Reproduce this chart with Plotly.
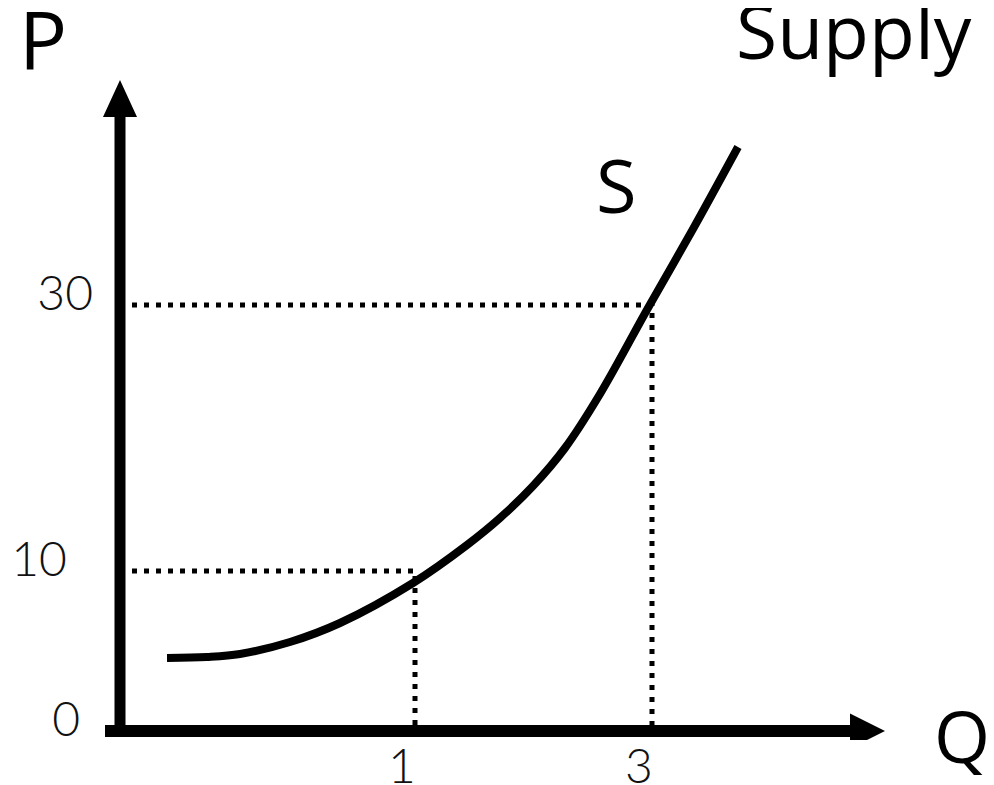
import plotly.graph_objects as go

# ---- data (schematic diagram units: 1 unit ~ 100 px on the page) ----
q_tick_labels = ["1", "3"]
q_tick_pos = [2.95, 5.32]
p_tick_labels = ["0", "10", "30"]
p_tick_pos = [0.0, 1.60, 4.26]

supply_q = [0.47, 0.87, 1.20, 1.70, 2.20, 2.93, 3.47, 3.80, 4.13, 4.45, 4.80, 5.28, 5.73, 6.18]
supply_p = [0.73, 0.74, 0.77, 0.89, 1.08, 1.48, 1.86, 2.13, 2.45, 2.83, 3.37, 4.23, 5.02, 5.84]

# ---- style ----
BLACK = "#000000"
BIG_FONT = "Open Sans, Noto Sans, sans-serif"
TICK_FONT = "Lato, Noto Sans, sans-serif"
p_label_pad = [1, 2, 0]  # non-breaking spaces after labels (visual offset only)

fig = go.Figure()

# dotted guide lines from each highlighted (Q, P) pair
for qi, pi in [(0, 1), (1, 2)]:
    q = q_tick_pos[qi]
    p = p_tick_pos[pi]
    fig.add_trace(go.Scatter(
        x=[0, q, q], y=[p, p, 0], mode="lines",
        line=dict(color=BLACK, width=5, dash="5px,7px"),
        hoverinfo="skip", showlegend=False))

# supply curve
fig.add_trace(go.Scatter(
    x=supply_q, y=supply_p, mode="lines",
    line=dict(color=BLACK, width=8, shape="spline", smoothing=1.0),
    showlegend=False, hoverinfo="skip"))

shapes = [
    dict(type="line", xref="x", yref="y", x0=0, x1=0, y0=-0.06, y1=6.17,
         line=dict(color=BLACK, width=11), layer="above"),
    dict(type="path", xref="x", yref="y", path="M -0.17,6.14 L 0.17,6.14 L 0,6.51 Z",
         fillcolor=BLACK, line=dict(width=0), layer="above"),
    dict(type="line", xref="x", yref="y", x0=-0.15, x1=7.32, y0=0, y1=0,
         line=dict(color=BLACK, width=12), layer="above"),
    dict(type="path", xref="x", yref="y", path="M 7.30,-0.175 L 7.30,0.175 L 7.65,0 Z",
         fillcolor=BLACK, line=dict(width=0), layer="above"),
]

annotations = [
    dict(text="P", xref="paper", yref="paper", x=-0.064, y=0.959, xanchor="center", yanchor="middle",
         showarrow=False, font=dict(family=BIG_FONT, size=80, color=BLACK)),
    dict(text="Supply", xref="paper", yref="paper", x=0.843, y=0.9705, xanchor="center", yanchor="middle",
         showarrow=False, font=dict(family=BIG_FONT, size=75, color=BLACK)),
    dict(text="Q", xref="paper", yref="paper", x=0.964, y=0.007, xanchor="center", yanchor="middle",
         showarrow=False, font=dict(family=BIG_FONT, size=72, color=BLACK)),
    dict(text="S", xref="x", yref="y", x=4.96, y=5.47, xanchor="center", yanchor="middle",
         showarrow=False, font=dict(family=BIG_FONT, size=74, color=BLACK)),
]

fig.update_layout(
    width=986, height=777, autosize=False,
    margin=dict(l=92, r=0, t=0, b=45, pad=0),
    plot_bgcolor="white", paper_bgcolor="white",
    shapes=shapes, annotations=annotations,
    xaxis=dict(range=[-0.20, 8.74], showgrid=False, zeroline=False, showline=False,
               automargin=False,
               ticks="", tickvals=q_tick_pos, ticktext=q_tick_labels,
               ticklabelshift=-13, ticklabelstandoff=-6,
               tickfont=dict(family=TICK_FONT, size=48, color="#111111", weight=300),
               fixedrange=True),
    yaxis=dict(range=[-0.09, 7.23], showgrid=False, zeroline=False, showline=False,
               automargin=False,
               ticks="", tickvals=p_tick_pos,
               ticktext=[l + "\u00a0" * n for l, n in zip(p_tick_labels, p_label_pad)],
               ticklabelshift=-12, ticklabelstandoff=6,
               tickfont=dict(family=TICK_FONT, size=48, color="#111111", weight=300),
               fixedrange=True),
)

fig.write_html("out.html")
